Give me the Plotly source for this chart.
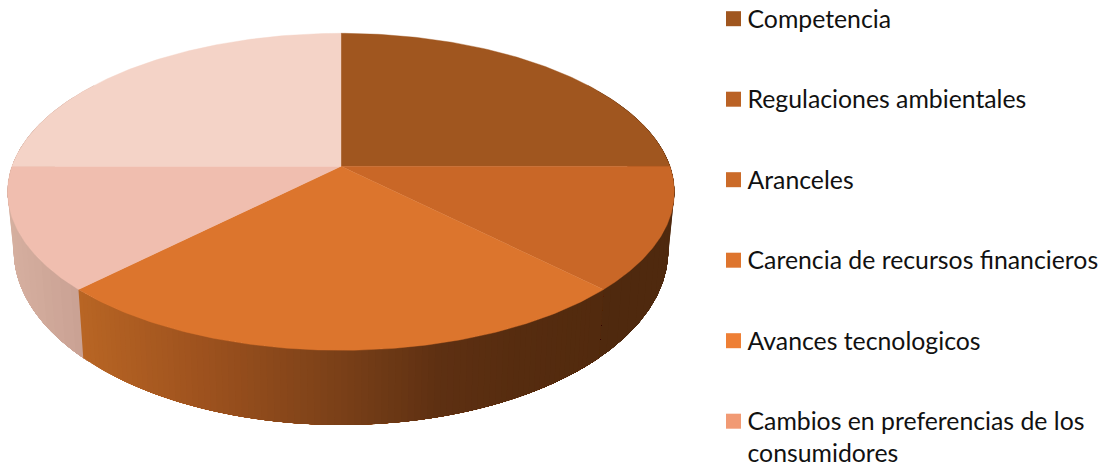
import numpy as np
import plotly.graph_objects as go

# Data
legend_labels = ["Competencia", "Regulaciones ambientales", "Aranceles",
                 "Carencia de recursos financieros", "Avances tecnologicos",
                 "Cambios en preferencias de los\nconsumidores"]
legend_colors = ["#A0561F", "#BA6225", "#CB6B29", "#DE752E", "#EE7F35", "#F19A74"]
slice_values = [25, 12.5, 25, 12.5, 25]
slice_colors = ["#A0561F", "#C96727", "#DC752D", "#F0BEAF", "#F4D3C7"]

# Style of the projected disc (pixels of a 1104x466 canvas)
CX, CY = 341.0, 166.3
K = 0.161
TOP = dict(R=329.0, A=154.4, y0=0.0)
BOT = dict(R=323.0, A=170.0, y0=56.0)
FONT = "Lato"
FONT_SIZE = 24.8


def project(theta, plane):
    """theta in radians, clockwise from 3 o'clock, seen on the tilted disc."""
    c, f = np.cos(theta), np.sin(theta)
    d = 1 - K * f
    return CX + plane["R"] * c / d, CY + plane["y0"] + plane["A"] * f / d


def mix(stops, x):
    xs = [s[0] for s in stops]
    rgb = [np.interp(x, xs, [s[1][i] for s in stops]) for i in range(3)]
    return "rgb(%d,%d,%d)" % tuple(int(round(v)) for v in rgb)


front_stops = [(80, (184, 101, 36)), (200, (158, 82, 30)), (340, (122, 64, 24)),
               (440, (94, 48, 18)), (520, (86, 44, 15)), (600, (82, 42, 14))]
left_stops = [(5, (214, 176, 160)), (85, (201, 160, 147))]
right_color = "rgb(79,41,14)"

fig = go.Figure()


def poly(xs, ys, color, lw=0.0):
    fig.add_trace(go.Scatter(x=xs, y=ys, mode="lines", fill="toself", fillcolor=color,
                             line=dict(color=color, width=lw), hoverinfo="skip",
                             showlegend=False))


def wall(a_from, a_to, color):
    """Wall section between two angles in degrees (a_from < a_to)."""
    th = np.radians(np.linspace(a_from, a_to, max(int((a_to - a_from) * 2), 2)))
    xt, yt = project(th, TOP)
    xb, yb = project(th[::-1], BOT)
    poly(list(xt) + list(xb), list(yt) + list(yb), color)


# boundaries of the wedges, in degrees from 3 o'clock going clockwise
total = sum(slice_values)
angles = np.cumsum([0] + list(slice_values)) / total * 360.0 - 90.0
seam_r, seam_l = angles[2], angles[3]

# outer wall sections, tucked under the front section
for a in np.arange(-35.0, seam_r, 3.0):
    wall(a, seam_r + 1.5, right_color)
for a in np.arange(215.0, seam_l - 1.5 - 1e-6, -3.0):
    xm = project(np.radians(a - 1.5), TOP)[0]
    wall(seam_l - 1.5, a, mix(left_stops, xm))
# front wall: each band runs to the right end and the next one paints over it
for a in np.arange(seam_l, seam_r + 2.0, -1.0):
    xm = project(np.radians(a - 0.5), TOP)[0]
    wall(seam_r, a, mix(front_stops, xm))

# top face
for i, col in enumerate(slice_colors):
    th = np.radians(np.linspace(angles[i], angles[i + 1], 120))
    xs, ys = project(th, TOP)
    poly([CX] + list(xs) + [CX], [CY] + list(ys) + [CY], col, lw=0.4)

# legend
shapes = []
LEG_X, LEG_Y, LEG_STEP, SW, TX, TY, LH = 726, 18.7, 80.5, 15, 747.5, 3.0, 31.5
text_x, text_y, text_s = [], [], []
for i, (lab, col) in enumerate(zip(legend_labels, legend_colors)):
    yc = LEG_Y + i * LEG_STEP
    shapes.append(dict(type="rect", x0=LEG_X, x1=LEG_X + SW, y0=yc - SW / 2, y1=yc + SW / 2,
                       fillcolor=col, line_width=0, xref="x", yref="y"))
    for j, part in enumerate(lab.split("\n")):
        text_x.append(TX)
        text_y.append(yc + TY + j * LH)
        text_s.append(part)
fig.add_trace(go.Scatter(x=text_x, y=text_y, text=text_s, mode="text", textposition="middle right",
                         textfont=dict(family=FONT, size=FONT_SIZE, color="#111111"),
                         hoverinfo="skip", showlegend=False, cliponaxis=False))

fig.update_layout(
    width=1104, height=466, margin=dict(l=0, r=0, t=0, b=0),
    paper_bgcolor="white", plot_bgcolor="white", showlegend=False,
    xaxis=dict(range=[0, 1104], visible=False, fixedrange=True),
    yaxis=dict(range=[466, 0], visible=False, fixedrange=True),
    shapes=shapes,
)
fig.write_html("out.html", config={"displayModeBar": False},
               post_script="document.body.style.margin='0';document.documentElement.style.overflow='hidden';")
